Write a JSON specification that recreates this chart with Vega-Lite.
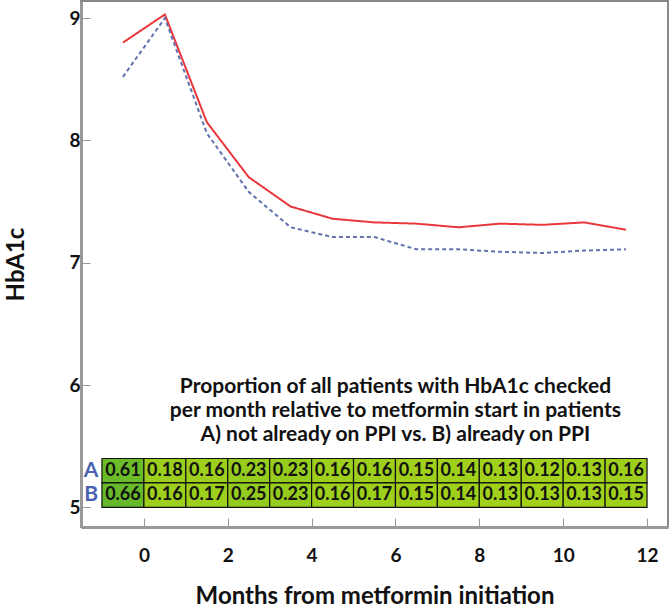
{
  "$schema": "https://vega.github.io/schema/vega-lite/v6.json",
  "width": 587,
  "height": 526,
  "autosize": "none",
  "padding": {"left": 81, "top": 1, "right": 2, "bottom": 83},
  "background": "white",
  "datasets": {
    "lines": [
      {"month": -0.5, "hba1c": 8.80, "group": "A"},
      {"month": 0.5, "hba1c": 9.03, "group": "A"},
      {"month": 1.5, "hba1c": 8.15, "group": "A"},
      {"month": 2.5, "hba1c": 7.70, "group": "A"},
      {"month": 3.5, "hba1c": 7.46, "group": "A"},
      {"month": 4.5, "hba1c": 7.36, "group": "A"},
      {"month": 5.5, "hba1c": 7.33, "group": "A"},
      {"month": 6.5, "hba1c": 7.32, "group": "A"},
      {"month": 7.5, "hba1c": 7.29, "group": "A"},
      {"month": 8.5, "hba1c": 7.32, "group": "A"},
      {"month": 9.5, "hba1c": 7.31, "group": "A"},
      {"month": 10.5, "hba1c": 7.33, "group": "A"},
      {"month": 11.5, "hba1c": 7.27, "group": "A"},
      {"month": -0.5, "hba1c": 8.52, "group": "B"},
      {"month": 0.5, "hba1c": 9.00, "group": "B"},
      {"month": 1.5, "hba1c": 8.06, "group": "B"},
      {"month": 2.5, "hba1c": 7.58, "group": "B"},
      {"month": 3.5, "hba1c": 7.29, "group": "B"},
      {"month": 4.5, "hba1c": 7.21, "group": "B"},
      {"month": 5.5, "hba1c": 7.21, "group": "B"},
      {"month": 6.5, "hba1c": 7.11, "group": "B"},
      {"month": 7.5, "hba1c": 7.11, "group": "B"},
      {"month": 8.5, "hba1c": 7.09, "group": "B"},
      {"month": 9.5, "hba1c": 7.08, "group": "B"},
      {"month": 10.5, "hba1c": 7.10, "group": "B"},
      {"month": 11.5, "hba1c": 7.11, "group": "B"}
    ],
    "cells": [
      {"group": "A", "month": -0.5, "month_start": -1, "month_end": 0, "prop": 0.61},
      {"group": "A", "month": 0.5, "month_start": 0, "month_end": 1, "prop": 0.18},
      {"group": "A", "month": 1.5, "month_start": 1, "month_end": 2, "prop": 0.16},
      {"group": "A", "month": 2.5, "month_start": 2, "month_end": 3, "prop": 0.23},
      {"group": "A", "month": 3.5, "month_start": 3, "month_end": 4, "prop": 0.23},
      {"group": "A", "month": 4.5, "month_start": 4, "month_end": 5, "prop": 0.16},
      {"group": "A", "month": 5.5, "month_start": 5, "month_end": 6, "prop": 0.16},
      {"group": "A", "month": 6.5, "month_start": 6, "month_end": 7, "prop": 0.15},
      {"group": "A", "month": 7.5, "month_start": 7, "month_end": 8, "prop": 0.14},
      {"group": "A", "month": 8.5, "month_start": 8, "month_end": 9, "prop": 0.13},
      {"group": "A", "month": 9.5, "month_start": 9, "month_end": 10, "prop": 0.12},
      {"group": "A", "month": 10.5, "month_start": 10, "month_end": 11, "prop": 0.13},
      {"group": "A", "month": 11.5, "month_start": 11, "month_end": 12, "prop": 0.16},
      {"group": "B", "month": -0.5, "month_start": -1, "month_end": 0, "prop": 0.66},
      {"group": "B", "month": 0.5, "month_start": 0, "month_end": 1, "prop": 0.16},
      {"group": "B", "month": 1.5, "month_start": 1, "month_end": 2, "prop": 0.17},
      {"group": "B", "month": 2.5, "month_start": 2, "month_end": 3, "prop": 0.25},
      {"group": "B", "month": 3.5, "month_start": 3, "month_end": 4, "prop": 0.23},
      {"group": "B", "month": 4.5, "month_start": 4, "month_end": 5, "prop": 0.16},
      {"group": "B", "month": 5.5, "month_start": 5, "month_end": 6, "prop": 0.17},
      {"group": "B", "month": 6.5, "month_start": 6, "month_end": 7, "prop": 0.15},
      {"group": "B", "month": 7.5, "month_start": 7, "month_end": 8, "prop": 0.14},
      {"group": "B", "month": 8.5, "month_start": 8, "month_end": 9, "prop": 0.13},
      {"group": "B", "month": 9.5, "month_start": 9, "month_end": 10, "prop": 0.13},
      {"group": "B", "month": 10.5, "month_start": 10, "month_end": 11, "prop": 0.13},
      {"group": "B", "month": 11.5, "month_start": 11, "month_end": 12, "prop": 0.15}
    ]
  },
  "layer": [
    {
      "data": {"name": "cells"},
      "transform": [{"filter": "datum.group === 'A'"}],
      "mark": {"type": "rect", "stroke": "#111", "strokeWidth": 1.2},
      "encoding": {
        "x": {"field": "month_start", "type": "quantitative", "scale": {"domain": [-1.5, 12.5], "nice": false, "zero": false}, "title": "Months from metformin initiation", "axis": {"values": [0, 2, 4, 6, 8, 10, 12], "format": "d"}},
        "x2": {"field": "month_end"},
        "y": {"datum": 5.2, "type": "quantitative", "scale": {"domain": [4.84, 9.14], "nice": false, "zero": false}, "title": "HbA1c", "axis": {"values": [5, 6, 7, 8, 9], "format": "d"}},
        "y2": {"datum": 5.4},
        "fill": {"field": "prop", "type": "quantitative", "scale": {"domain": [0.12, 0.66], "range": ["#a3d11b", "#66b92a"]}, "legend": null}
      }
    },
    {
      "data": {"name": "cells"},
      "transform": [{"filter": "datum.group === 'B'"}],
      "mark": {"type": "rect", "stroke": "#111", "strokeWidth": 1.2},
      "encoding": {
        "x": {"field": "month_start", "type": "quantitative", "title": "Months from metformin initiation"},
        "x2": {"field": "month_end"},
        "y": {"datum": 5.0, "type": "quantitative", "title": "HbA1c"},
        "y2": {"datum": 5.2},
        "fill": {"field": "prop", "type": "quantitative", "legend": null}
      }
    },
    {
      "data": {"name": "cells"},
      "transform": [{"filter": "datum.group === 'A'"}],
      "mark": {"type": "text", "font": "Lato", "fontWeight": "bold", "fontSize": 18, "color": "#111", "baseline": "middle", "align": "center"},
      "encoding": {
        "x": {"field": "month", "type": "quantitative", "title": "Months from metformin initiation"},
        "y": {"datum": 5.3, "type": "quantitative", "title": "HbA1c"},
        "text": {"field": "prop", "type": "quantitative", "format": ".2f"}
      }
    },
    {
      "data": {"name": "cells"},
      "transform": [{"filter": "datum.group === 'B'"}],
      "mark": {"type": "text", "font": "Lato", "fontWeight": "bold", "fontSize": 18, "color": "#111", "baseline": "middle", "align": "center"},
      "encoding": {
        "x": {"field": "month", "type": "quantitative", "title": "Months from metformin initiation"},
        "y": {"datum": 5.1, "type": "quantitative", "title": "HbA1c"},
        "text": {"field": "prop", "type": "quantitative", "format": ".2f"}
      }
    },
    {
      "data": {"name": "lines"},
      "mark": {"type": "line", "strokeWidth": 2},
      "encoding": {
        "x": {"field": "month", "type": "quantitative", "title": "Months from metformin initiation"},
        "y": {"field": "hba1c", "type": "quantitative", "title": "HbA1c"},
        "color": {"field": "group", "type": "nominal", "scale": {"domain": ["A", "B"], "range": ["#e8383d", "#6172ad"]}, "legend": null},
        "strokeDash": {"field": "group", "type": "nominal", "scale": {"domain": ["A", "B"], "range": [[1, 0], [4, 3]]}, "legend": null}
      }
    },
    {
      "data": {"values": [{}]},
      "mark": {"type": "text", "text": "A", "font": "Lato", "fontWeight": "bold", "fontSize": 21, "color": "#4a62b0", "baseline": "middle", "align": "center"},
      "encoding": {
        "x": {"datum": -1.26, "type": "quantitative", "title": "Months from metformin initiation"},
        "y": {"datum": 5.3, "type": "quantitative", "title": "HbA1c"}
      }
    },
    {
      "data": {"values": [{}]},
      "mark": {"type": "text", "text": "B", "font": "Lato", "fontWeight": "bold", "fontSize": 21, "color": "#4a62b0", "baseline": "middle", "align": "center"},
      "encoding": {
        "x": {"datum": -1.26, "type": "quantitative", "title": "Months from metformin initiation"},
        "y": {"datum": 5.1, "type": "quantitative", "title": "HbA1c"}
      }
    },
    {
      "data": {"values": [{}]},
      "mark": {"type": "text", "text": ["Proportion of all patients with HbA1c checked", "per month relative to metformin start in patients", "A) not already on PPI vs. B) already on PPI"], "font": "Lato", "fontWeight": "bold", "fontSize": 21, "lineHeight": 24, "color": "#111", "baseline": "middle", "align": "center"},
      "encoding": {
        "x": {"datum": 6.0, "type": "quantitative", "title": "Months from metformin initiation"},
        "y": {"datum": 5.985, "type": "quantitative", "title": "HbA1c"}
      }
    }
  ],
  "config": {
    "view": {"stroke": "#888", "strokeWidth": 2},
    "axis": {
      "grid": false,
      "labelFont": "Lato", "labelFontWeight": "bold", "labelFontSize": 19, "labelColor": "#111",
      "titleFont": "Lato", "titleFontWeight": "bold", "titleFontSize": 24, "titleColor": "#111",
      "domainColor": "#999", "domainWidth": 3,
      "tickColor": "#999", "tickWidth": 1, "tickSize": -9
    },
    "axisX": {"labelPadding": 28, "titlePadding": 19},
    "axisY": {"labelPadding": 10, "titlePadding": 40}
  }
}
